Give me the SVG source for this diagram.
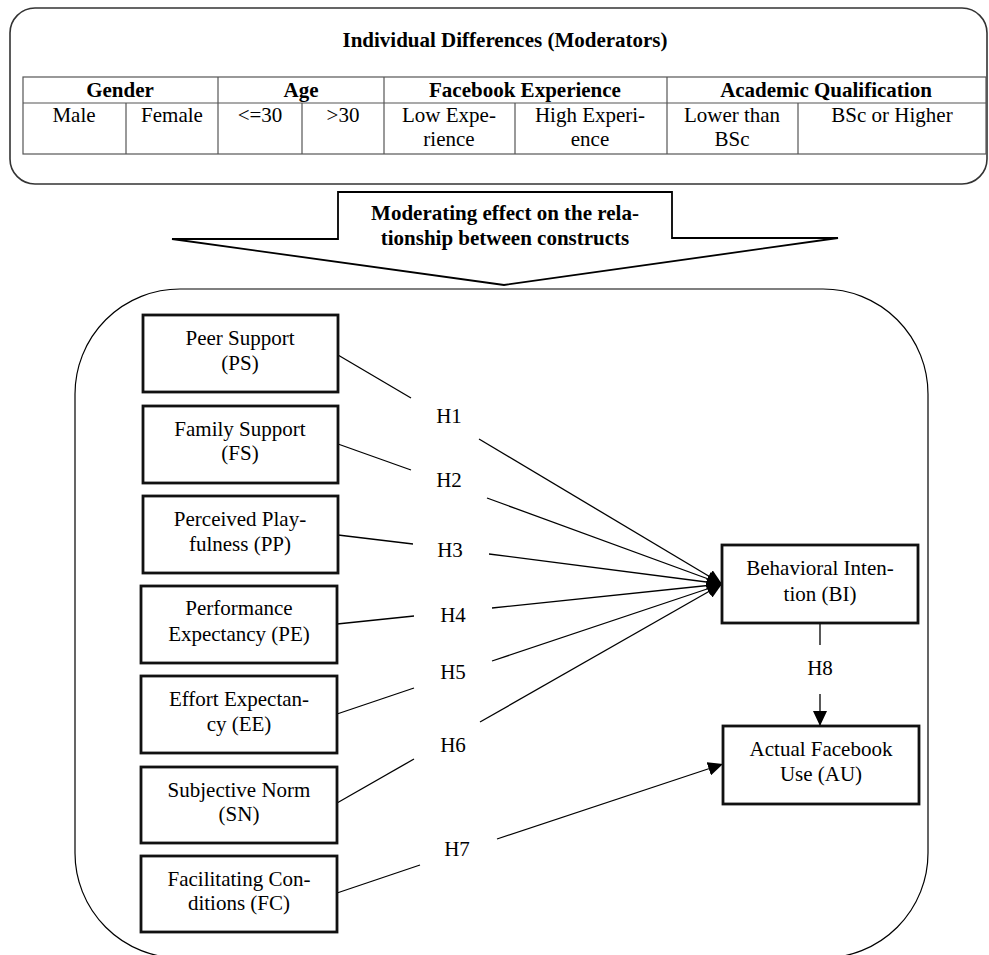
<svg xmlns="http://www.w3.org/2000/svg" width="989" height="955" viewBox="0 0 989 955">
<defs>
<style>
text{font-family:"Liberation Serif","Times New Roman",serif;font-size:21px;fill:#000;text-anchor:middle}
.b{font-weight:bold}
.node{fill:#fff;stroke:#111;stroke-width:2.8}
.tbl{fill:none;stroke:#555;stroke-width:1.2}
.con{stroke:#000;stroke-width:1.3;fill:none}
</style>
<marker id="arr" markerUnits="userSpaceOnUse" markerWidth="16" markerHeight="14" refX="15" refY="7" orient="auto">
<path d="M0,0 L15,7 L0,14 z" fill="#000"/>
</marker>
</defs>
<rect width="989" height="955" fill="#fff"/>

<g id="moderators">
<rect x="10" y="8" width="977" height="176" rx="25" ry="25" fill="none" stroke="#333" stroke-width="1.6"/>
<text class="b" x="505" y="47">Individual Differences (Moderators)</text>
<rect class="tbl" x="23" y="77" width="963" height="77"/>
<line class="tbl" x1="23" y1="103" x2="986" y2="103"/>
<line class="tbl" x1="218" y1="77" x2="218" y2="154"/>
<line class="tbl" x1="384" y1="77" x2="384" y2="154"/>
<line class="tbl" x1="667" y1="77" x2="667" y2="154"/>
<line class="tbl" x1="126" y1="103" x2="126" y2="154"/>
<line class="tbl" x1="302" y1="103" x2="302" y2="154"/>
<line class="tbl" x1="515" y1="103" x2="515" y2="154"/>
<line class="tbl" x1="798" y1="103" x2="798" y2="154"/>
<text class="b" x="120" y="97">Gender</text>
<text class="b" x="301" y="97">Age</text>
<text class="b" x="525" y="97">Facebook Experience</text>
<text class="b" x="826" y="97">Academic Qualification</text>
<text x="74" y="122">Male</text>
<text x="172" y="122">Female</text>
<text x="260" y="122">&lt;=30</text>
<text x="343" y="122">&gt;30</text>
<text x="449" y="122">Low Expe-</text>
<text x="449" y="146">rience</text>
<text x="590" y="122">High Experi-</text>
<text x="590" y="146">ence</text>
<text x="732" y="122">Lower than</text>
<text x="732" y="146">BSc</text>
<text x="892" y="122">BSc or Higher</text>
</g>

<g id="callout">
<path d="M338,192 L672,192 L672,238 L838,238 L504,285 L172,239 L338,239 Z" fill="#fff" stroke="#000" stroke-width="1.8" stroke-linejoin="miter"/>
<text class="b" x="505" y="220">Moderating effect on the rela-</text>
<text class="b" x="505" y="245">tionship between constructs</text>
</g>

<g id="model-frame">
<rect x="75" y="289" width="853" height="669" rx="105" ry="105" fill="none" stroke="#000" stroke-width="1.2"/>
</g>

<g id="connectors">
<line class="con" x1="338" y1="355" x2="411" y2="398"/>
<line class="con" x1="479" y1="439" x2="722" y2="584" marker-end="url(#arr)"/>
<line class="con" x1="338" y1="444" x2="411" y2="470"/>
<line class="con" x1="487" y1="498" x2="722" y2="584" marker-end="url(#arr)"/>
<line class="con" x1="338" y1="535" x2="413" y2="544"/>
<line class="con" x1="489" y1="554" x2="722" y2="584" marker-end="url(#arr)"/>
<line class="con" x1="337" y1="624" x2="414" y2="616"/>
<line class="con" x1="492" y1="608" x2="722" y2="584" marker-end="url(#arr)"/>
<line class="con" x1="337" y1="714" x2="414" y2="688"/>
<line class="con" x1="492" y1="661" x2="722" y2="584" marker-end="url(#arr)"/>
<line class="con" x1="337" y1="803" x2="414" y2="759"/>
<line class="con" x1="480" y1="722" x2="722" y2="584" marker-end="url(#arr)"/>
<line class="con" x1="337" y1="893" x2="420" y2="865"/>
<line class="con" x1="497" y1="839" x2="723" y2="764" marker-end="url(#arr)"/>
<line class="con" x1="820" y1="623" x2="820" y2="645"/>
<line class="con" x1="820" y1="694" x2="820" y2="726" marker-end="url(#arr)"/>
<text x="449" y="423">H1</text>
<text x="449" y="487">H2</text>
<text x="450" y="557">H3</text>
<text x="453" y="622">H4</text>
<text x="453" y="679">H5</text>
<text x="453" y="752">H6</text>
<text x="457" y="856">H7</text>
<text x="820" y="675">H8</text>
</g>

<g id="PS">
<rect class="node" x="143" y="315" width="195" height="77"/>
<text x="240" y="345">Peer Support</text>
<text x="240" y="370">(PS)</text>
</g>
<g id="FS">
<rect class="node" x="143" y="406" width="195" height="77"/>
<text x="240" y="436">Family Support</text>
<text x="240" y="460">(FS)</text>
</g>
<g id="PP">
<rect class="node" x="143" y="496" width="195" height="77"/>
<text x="240" y="526">Perceived Play-</text>
<text x="240" y="551">fulness (PP)</text>
</g>
<g id="PE">
<rect class="node" x="141" y="586" width="196" height="77"/>
<text x="239" y="615">Performance</text>
<text x="239" y="641">Expectancy (PE)</text>
</g>
<g id="EE">
<rect class="node" x="141" y="676" width="196" height="77"/>
<text x="239" y="706">Effort Expectan-</text>
<text x="239" y="731">cy (EE)</text>
</g>
<g id="SN">
<rect class="node" x="141" y="767" width="196" height="76"/>
<text x="239" y="797">Subjective Norm</text>
<text x="239" y="821">(SN)</text>
</g>
<g id="FC">
<rect class="node" x="141" y="856" width="196" height="76"/>
<text x="239" y="886">Facilitating Con-</text>
<text x="239" y="910">ditions (FC)</text>
</g>
<g id="BI">
<rect class="node" x="722" y="545" width="196" height="78"/>
<text x="820" y="575">Behavioral Inten-</text>
<text x="820" y="601">tion (BI)</text>
</g>
<g id="AU">
<rect class="node" x="723" y="726" width="196" height="78"/>
<text x="821" y="756">Actual Facebook</text>
<text x="821" y="781">Use (AU)</text>
</g>
</svg>
